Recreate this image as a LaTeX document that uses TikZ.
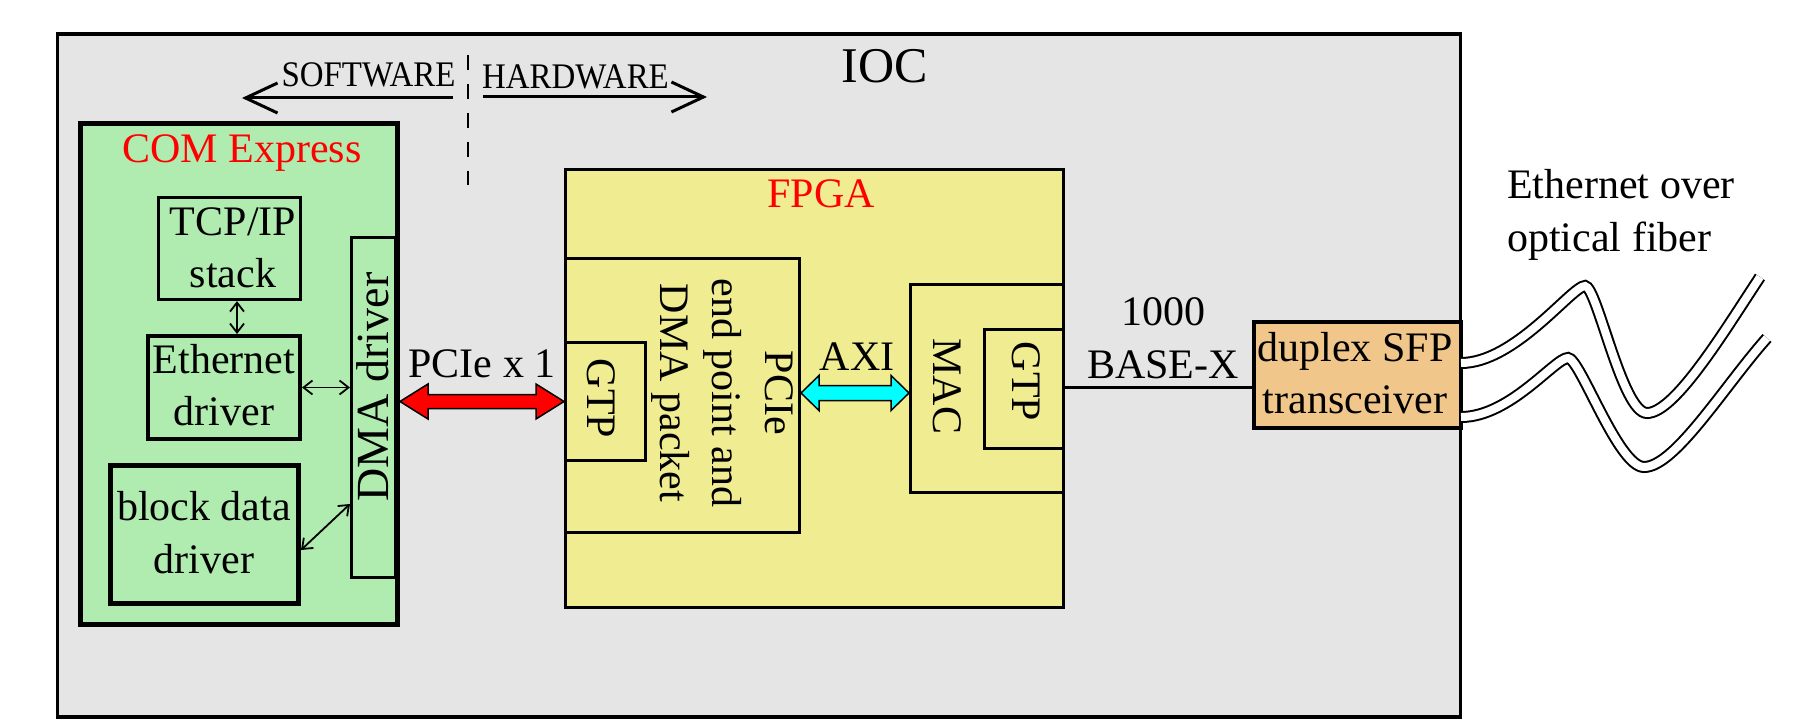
\documentclass[tikz,border=0pt]{standalone}
\usepackage{fontspec}
\setmainfont{Liberation Serif}
\usetikzlibrary{arrows.meta,calc}
\definecolor{iocgray}{RGB}{229,229,229}
\definecolor{comgreen}{RGB}{176,236,176}
\definecolor{fpgayel}{RGB}{239,236,145}
\definecolor{sfporange}{RGB}{240,198,138}
\definecolor{axicyan}{RGB}{0,255,255}
\definecolor{pcired}{RGB}{255,0,0}
\newcommand\fatarrow[7]{%
  \path let \p1=(#1), \p2=(#2), \p3=(#3) in
    [draw=black, line width=1.5pt, fill=#4, line join=miter]
    (\x1,\y3) -- (\x1+#5,\y3+#6) -- (\x1+#5,\y3+#7) -- (\x2-#5,\y3+#7) -- (\x2-#5,\y3+#6)
    -- (\x2,\y3) -- (\x2-#5,\y3-#6) -- (\x2-#5,\y3-#7) -- (\x1+#5,\y3-#7) -- (\x1+#5,\y3-#6) -- cycle;}
\begin{document}
\begin{tikzpicture}[x=1pt,y=-1pt,
  box/.style={draw=black, rectangle, inner sep=0pt},
  lbl/.style={inner sep=0pt, align=center, font=\fontsize{42}{52.5}\selectfont},
  swlbl/.style={inner sep=0pt, font=\fontsize{36}{42}\selectfont, xscale=0.915, anchor=base},
  sarrow/.style={line width=1.8pt, {Straight Barb[length=9pt,width=14pt]}-{Straight Barb[length=9pt,width=14pt]}},
  bigarrow/.style={line width=3pt, -{Straight Barb[length=32pt,width=30pt]}},
  fiber/.style={line width=2pt, double=white, double distance=8pt}]
\useasboundingbox (0,0) rectangle (1812,719);

% boxes
\node[box, line width=3.5pt, fill=iocgray, minimum width=1403pt, minimum height=683pt] (ioc) at (759,375.5) {};
\node[box, line width=5pt, fill=comgreen, minimum width=317pt, minimum height=501pt] (com) at (239,374) {};
\node[box, line width=3.3pt, minimum width=142pt, minimum height=102pt] (tcp) at (229.5,248.5) {};
\node[box, line width=4pt, minimum width=152pt, minimum height=103pt] (eth) at (224,387.5) {};
\node[box, line width=5pt, minimum width=188pt, minimum height=138pt] (blk) at (204.5,534.5) {};
\node[box, line width=3pt, minimum width=44pt, minimum height=340pt] (dma) at (373.5,407.5) {};
\node[box, line width=3pt, fill=fpgayel, minimum width=498pt, minimum height=438pt] (fpga) at (814.5,388.5) {};
\node[box, line width=3pt, minimum width=234pt, minimum height=274pt] (pcie) at (682.5,395.5) {};
\node[box, line width=3pt, minimum width=80pt, minimum height=118pt] (gtpL) at (605.5,401.5) {};
\node[box, line width=3pt, minimum width=153pt, minimum height=208pt] (mac) at (987,388.5) {};
\node[box, line width=3pt, minimum width=79pt, minimum height=119pt] (gtpR) at (1024,389) {};
\node[box, line width=4pt, fill=sfporange, minimum width=206.5pt, minimum height=106pt] (sfp) at (1357.25,375) {};

% texts (multi-line nodes are anchored at the baseline of their last line)
\node[lbl, font=\fontsize{50}{60}\selectfont, anchor=base] (tioc) at (884.5,83) {IOC};
\node[swlbl] (tsw) at (368.5,87) {SOFTWARE};
\node[swlbl] (thw) at (575.5,89) {HARDWARE};
\node[lbl, text=pcired, anchor=base] (tcom) at (242,163) {COM Express};
\node[lbl, anchor=base] (ttcp) at (233,287.5) {TCP/IP\\stack};
\node[lbl, anchor=base] (teth) at (224,425.5) {Ethernet\\driver};
\node[lbl, anchor=base] (tblk) at (204,573) {block data\\driver};
\node[lbl, font=\fontsize{46}{55}\selectfont, anchor=base, rotate=90] (tdma) at (388,387) {DMA driver};
\node[lbl, anchor=base] (tpcx) at (482,377) {PCIe x 1};
\node[lbl, text=pcired, anchor=base] (tfpga) at (821,208) {FPGA};
\node[lbl, anchor=base, rotate=-90] (tpcie) at (660,393) {PCIe\\end point and\\DMA packet};
\node[lbl, anchor=base, rotate=-90] (tgtpl) at (587,398.5) {GTP};
\node[lbl, anchor=base] (taxi) at (857,370) {AXI};
\node[lbl, anchor=base, rotate=-90] (tmac) at (933,386.5) {MAC};
\node[lbl, anchor=base, rotate=-90] (tgtpr) at (1012,381.5) {GTP};
\node[lbl, anchor=base] (tbase) at (1163,378) {1000\\BASE-X};
\node[lbl, anchor=base] (tsfp) at (1355,413.5) {duplex SFP\\transceiver};
\node[lbl, anchor=base west, align=left] (tfib) at (1507,251.5) {Ethernet over\\optical fiber};

% software / hardware divider
\coordinate (swS) at (453,98);
\coordinate (swE) at (242,98);
\coordinate (hwS) at (483,97);
\coordinate (hwE) at (707,97);
\draw[bigarrow] (swS) -- (swE);
\draw[bigarrow] (hwS) -- (hwE);
\coordinate (d1) at (468,55);
\coordinate (d2) at (468,185);
\draw[line width=2.5pt, dash pattern=on 15pt off 14pt] (d1) -- (d2);

% small arrows
\coordinate (xa) at (237,0);
\draw[sarrow] (tcp.south -| xa) -- (eth.north -| xa);
\draw[sarrow] (eth.east) -- (eth.east -| dma.west);
\coordinate (ya) at (0,550);
\coordinate (yb) at (0,504);
\draw[sarrow] (blk.east |- ya) -- (dma.west |- yb);

% fat arrows
\fatarrow{com.east}{gtpL.west}{gtpL.center}{pcired}{28pt}{17.5pt}{7pt}
\coordinate (axiy) at (0,393);
\fatarrow{pcie.east}{mac.west}{axiy}{axicyan}{18pt}{17.5pt}{7.5pt}

% link to SFP
\coordinate (lk) at (0,387);
\draw[line width=3pt] (gtpR.east |- lk) -- (sfp.west |- lk);

% fibers
\coordinate (fa0) at (1461,363);
\coordinate (fa3) at (1760,277);
\coordinate (fb0) at (1461,417);
\coordinate (fb3) at (1767,338);
\draw[fiber] (fa0) .. controls (1515,363) and (1572,286) .. (1585,286)
  .. controls (1597,286) and (1622,413) .. (1647,413)
  .. controls (1675,413) and (1725,330) .. (fa3);
\draw[fiber] (fb0) .. controls (1510,417) and (1555,358) .. (1568,358)
  .. controls (1580,358) and (1618,467) .. (1644,467)
  .. controls (1675,467) and (1725,385) .. (fb3);
\end{tikzpicture}
\end{document}
